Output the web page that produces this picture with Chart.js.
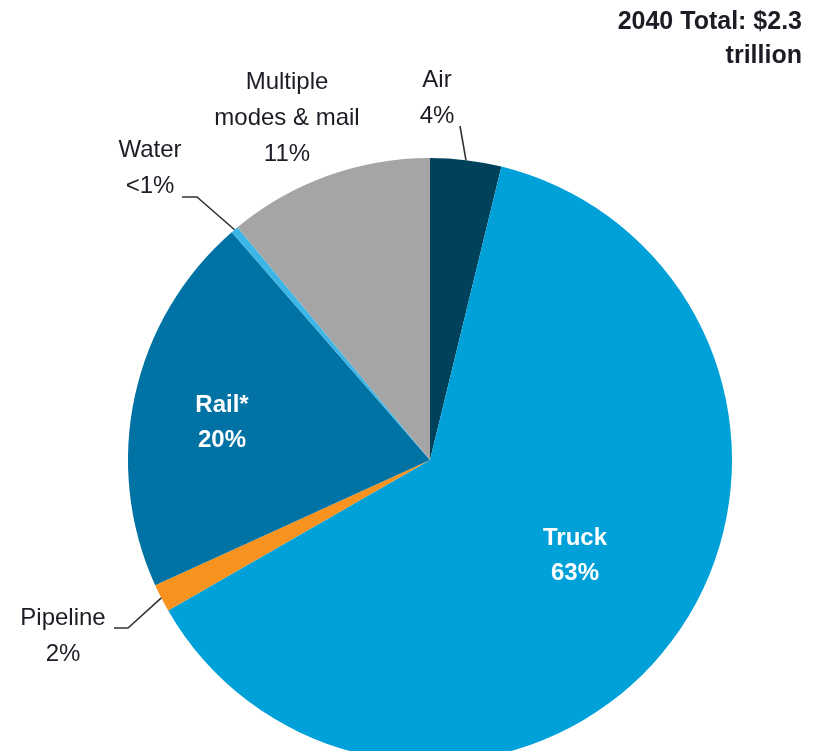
<!DOCTYPE html>
<html>
<head>
<meta charset="utf-8">
<script src="https://cdn.jsdelivr.net/npm/chart.js@4.4.0/dist/chart.umd.min.js"></script>
<style>
  html, body { margin: 0; padding: 0; background: #fff; overflow: hidden; }
  #wrap { width: 821px; height: 800px; position: relative; }
</style>
</head>
<body>
<div id="wrap"><canvas id="freightPie"></canvas></div>
<script>
// slices, clockwise from 12 o'clock
const categories = ['Air', 'Truck', 'Pipeline', 'Rail*', 'Water', 'Multiple modes & mail'];
const shares = [3.8, 62.9, 1.5, 20.4, 0.4, 11.0];
const shareLabels = ['4%', '63%', '2%', '20%', '<1%', '11%'];
const sliceColors = ['#00425c', '#00a1d8', '#f7931e', '#0072a3', '#3cb6e6', '#a5a5a5'];
const titleLines = ['2040 Total: $2.3', 'trillion'];

const FONT = '"Liberation Sans", Arial, sans-serif';

// where each label sits (text lines drawn centred on x)
// leader = bend points of the callout line, missing for labels inside the pie
const labelLayout = {
    'Air': { x: 437, y: 80, lines: ['Air'], inside: false, leader: [{ x: 460, y: 126 }] },
    'Truck': { x: 575, y: 538, lines: ['Truck'], inside: true },
    'Pipeline': { x: 63, y: 618, lines: ['Pipeline'], inside: false, leader: [{ x: 114, y: 628 }, { x: 128, y: 628 }] },
    'Rail*': { x: 222, y: 405, lines: ['Rail*'], inside: true },
    'Water': { x: 150, y: 150, lines: ['Water'], inside: false, leader: [{ x: 182, y: 197 }, { x: 197, y: 197 }] },
    'Multiple modes & mail': { x: 287, y: 82, lines: ['Multiple', 'modes & mail'], inside: false }
};

const labelPlugin = {
    id: 'labelPlugin',
    afterDraw(chart) {
        const ctx = chart.ctx;
        const arcs = chart.getDatasetMeta(0).data;
        ctx.save();
        ctx.textAlign = 'center';
        ctx.textBaseline = 'middle';

        categories.forEach((cat, i) => {
            const lay = labelLayout[cat];
            const lines = lay.lines.concat([shareLabels[i]]);
            const step = lay.inside ? 35 : 36;
            ctx.font = (lay.inside ? 'bold ' : '') + '24px ' + FONT;
            ctx.fillStyle = lay.inside ? '#ffffff' : '#1c1c24';
            lines.forEach((t, k) => ctx.fillText(t, lay.x, lay.y + k * step));

            // callout line to the middle of the slice edge
            if (lay.leader) {
                const a = arcs[i];
                const mid = (a.startAngle + a.endAngle) / 2;
                const ex = a.x + a.outerRadius * Math.cos(mid);
                const ey = a.y + a.outerRadius * Math.sin(mid);
                ctx.strokeStyle = '#333333';
                ctx.lineWidth = 1.6;
                ctx.beginPath();
                ctx.moveTo(lay.leader[0].x, lay.leader[0].y);
                lay.leader.slice(1).forEach(p => ctx.lineTo(p.x, p.y));
                ctx.lineTo(ex, ey);
                ctx.stroke();
            }
        });

        // total in the top right corner
        ctx.textAlign = 'right';
        ctx.font = 'bold 25px ' + FONT;
        ctx.fillStyle = '#1c1c24';
        titleLines.forEach((t, k) => ctx.fillText(t, 802, 22 + k * 34));
        ctx.restore();
    }
};

const ctx = document.getElementById('freightPie').getContext('2d');
const freightPie = new Chart(ctx, {
    type: 'pie',
    data: {
        labels: categories,
        datasets: [{
            data: shares,
            backgroundColor: sliceColors,
            borderWidth: 0,
            hoverOffset: 0
        }]
    },
    options: {
        responsive: true,
        maintainAspectRatio: false,
        animation: false,
        events: [],
        layout: { padding: { left: 127, right: 88, top: 158, bottom: 38 } },
        plugins: {
            legend: { display: false },
            tooltip: { enabled: false },
            title: { display: false }
        }
    },
    plugins: [labelPlugin]
});
</script>
</body>
</html>
